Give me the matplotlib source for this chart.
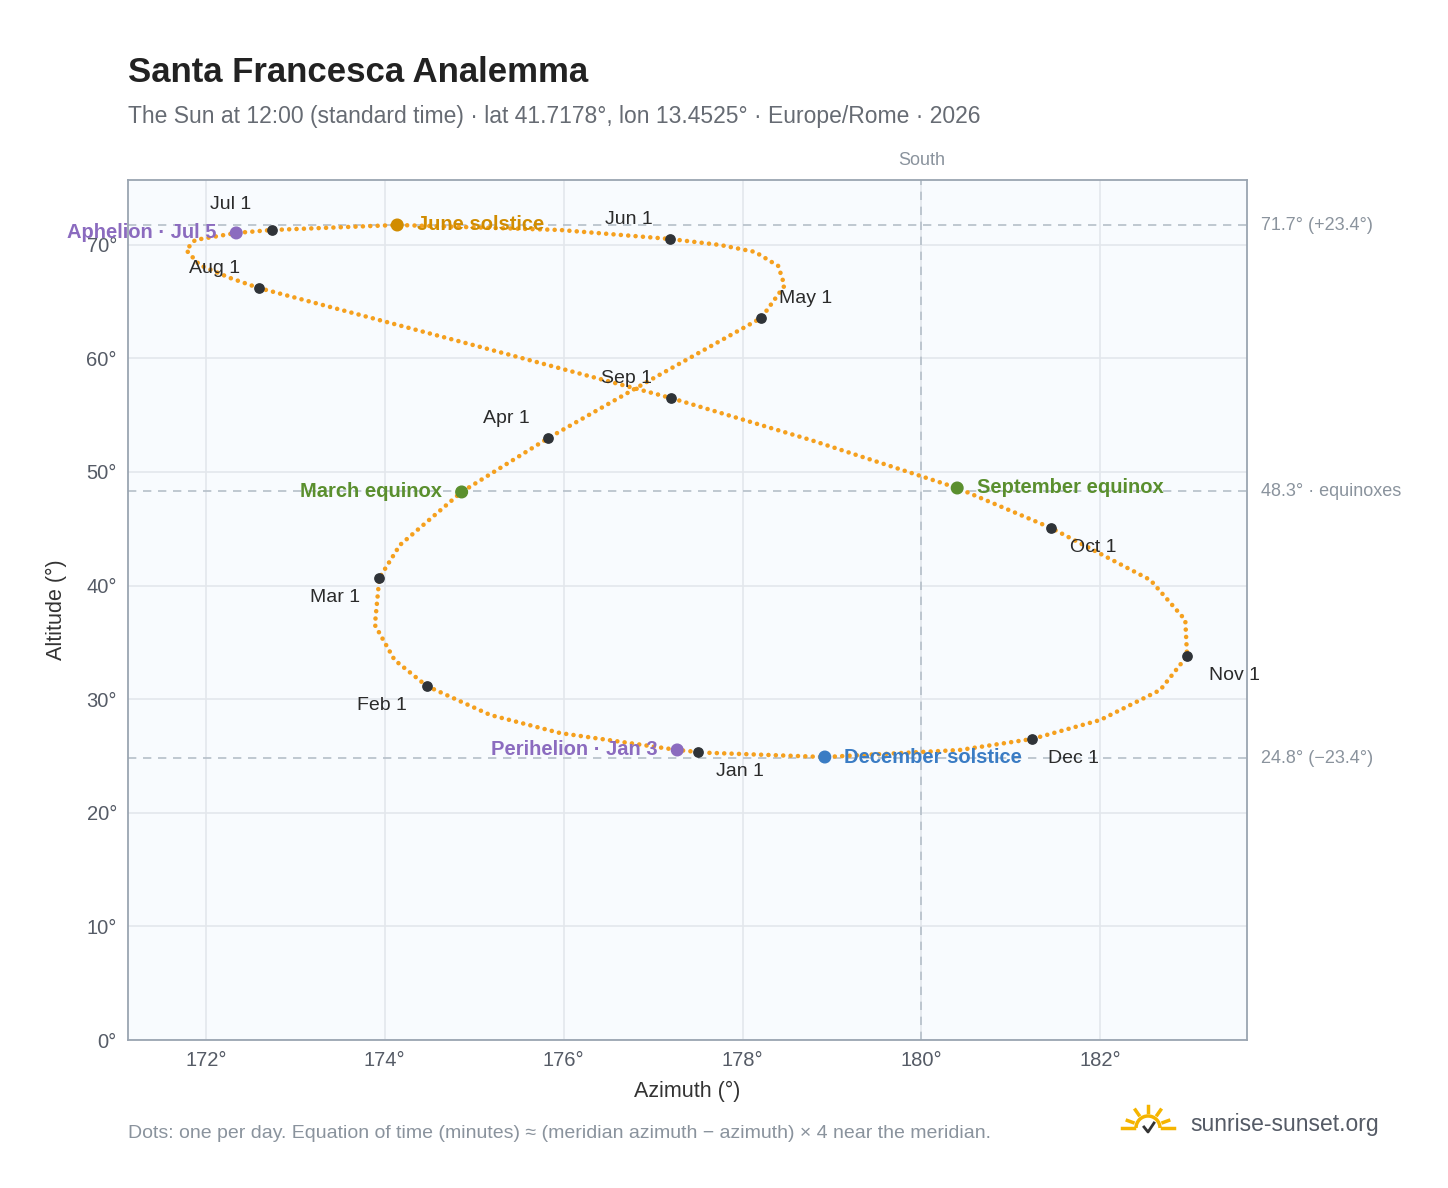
import matplotlib
matplotlib.use("Agg")
import matplotlib.pyplot as plt
from matplotlib.patches import Arc
import numpy as np

plt.rcParams['font.family'] = ['Liberation Sans', 'DejaVu Sans']

# path (approx. ordered through the year)
path_az = [177.50, 177.27, 175.96, 175.18, 174.47, 174.11, 173.89, 173.94, 174.17, 174.86,
           175.83, 176.97, 178.21, 178.47, 178.40, 178.14, 177.75, 177.19, 175.96, 174.14,
           172.74, 172.34, 171.88, 171.78, 171.93, 172.27, 172.59, 174.90, 177.20, 178.76,
           180.40, 181.45, 182.56, 182.95, 182.97, 182.67, 182.00, 181.24, 180.43, 178.92, 177.55]
path_alt = [25.35, 25.53, 27.02, 28.61, 31.16, 33.45, 36.53, 40.67, 43.57, 48.24,
            52.99, 58.10, 63.56, 66.40, 68.13, 69.37, 69.98, 70.51, 71.30, 71.74,
            71.30, 71.04, 70.42, 69.54, 68.22, 67.08, 66.20, 61.36, 56.51, 52.82,
            48.59, 45.07, 40.49, 36.97, 33.80, 30.81, 28.17, 26.50, 25.53, 24.91, 25.30]

months = ["Jan 1", "Feb 1", "Mar 1", "Apr 1", "May 1", "Jun 1", "Jul 1", "Aug 1", "Sep 1", "Oct 1", "Nov 1", "Dec 1"]
month_az = [177.50, 174.47, 173.94, 175.83, 178.21, 177.19, 172.74, 172.59, 177.20, 181.45, 182.97, 181.24]
month_alt = [25.35, 31.16, 40.67, 52.99, 63.56, 70.51, 71.30, 66.20, 56.51, 45.07, 33.80, 26.50]
month_off = [(30, -14), (-32, -14), (-32, -14), (-30, 14), (32, 14), (-30, 14), (-30, 18), (-32, 14), (-32, 14), (30, -14), (34, -14), (30, -14)]

events = ["Perihelion · Jan 3", "March equinox", "June solstice", "Aphelion · Jul 5", "September equinox", "December solstice"]
ev_az = [177.27, 174.86, 174.14, 172.34, 180.40, 178.92]
ev_alt = [25.53, 48.24, 71.74, 71.04, 48.59, 24.91]
ev_col = ["#8b6bbf", "#5a8f2e", "#d18c00", "#8b6bbf", "#5a8f2e", "#3a7cc4"]
ev_side = ["l", "l", "r", "l", "r", "r"]

ref_lines = [71.7, 48.3, 24.8]
ref_labels = ["71.7° (+23.4°)", "48.3° · equinoxes", "24.8° (−23.4°)"]

fig = plt.figure(figsize=(14.48, 11.88), dpi=100)
ax = fig.add_axes([128/1448, 1-1040/1188, 1119/1448, 860/1188])
ax.set_facecolor("#f8fbfe")
ax.set_xlim(171.13, 183.64)
ax.set_ylim(0, 75.7)
ax.set_xticks([172, 174, 176, 178, 180, 182])
ax.set_xticklabels([f"{t}°" for t in [172, 174, 176, 178, 180, 182]])
ax.set_yticks(range(0, 71, 10))
ax.set_yticklabels([f"{t}°" for t in range(0, 71, 10)])
ax.grid(color="#e3e7ec", lw=1.2)
ax.set_axisbelow(True)
for s in ax.spines.values():
    s.set_color("#9aa5b1"); s.set_linewidth(1.3)
ax.tick_params(colors="#555b66", labelsize=14.5, length=0, pad=8)
ax.set_xlabel("Azimuth (°)", fontsize=15.5, color="#333", labelpad=8)
ax.set_ylabel("Altitude (°)", fontsize=15.5, color="#333", labelpad=14)

for v, lab in zip(ref_lines, ref_labels):
    ax.axhline(v, color="#b5bfc9", ls=(0, (5, 4)), lw=1.2)
    ax.annotate(lab, (1, v), xycoords=("axes fraction", "data"), xytext=(10, 0),
                textcoords="offset points", va="center", fontsize=13, color="#8a939d")
ax.axvline(180, color="#b5bfc9", ls=(0, (5, 4)), lw=1.2)
ax.annotate("South", (180, 1), xycoords=("data", "axes fraction"), xytext=(0, 8),
            textcoords="offset points", ha="center", va="bottom", fontsize=13, color="#8a939d")

ax.plot(path_az, path_alt, color="#f5a01e", lw=3.3, ls=(0, (0.01, 1.6)),
        dash_capstyle="round", zorder=3)

ax.scatter(month_az, month_alt, s=45, color="#2f3338", zorder=5)
for m, x, y, o in zip(months, month_az, month_alt, month_off):
    ax.annotate(m, (x, y), xytext=o, textcoords="offset points", ha="center", va="center",
                fontsize=14, color="#2b2b2b", zorder=6)

ax.scatter(ev_az, ev_alt, s=70, color=ev_col, zorder=6)
for e, x, y, c, sd in zip(events, ev_az, ev_alt, ev_col, ev_side):
    ax.annotate(e, (x, y), xytext=(-14 if sd == "l" else 14, 0), textcoords="offset points",
                ha="right" if sd == "l" else "left", va="center", fontsize=14.5,
                fontweight="bold", color=c, zorder=7)

fig.text(128/1448, 1-72/1188, "Santa Francesca Analemma", fontsize=25, fontweight="bold",
         color="#222", va="center")
fig.text(128/1448, 1-116/1188,
         "The Sun at 12:00 (standard time) · lat 41.7178°, lon 13.4525° · Europe/Rome · 2026",
         fontsize=16.5, color="#666b73", va="center")
fig.text(128/1448, 1-1134/1188,
         "Dots: one per day. Equation of time (minutes) ≈ (meridian azimuth − azimuth) × 4 near the meridian.",
         fontsize=14, color="#8a939d", va="center")
fig.text(1190/1448, 1-1125/1188, "sunrise-sunset.org", fontsize=16.5, color="#555b66", va="center")

lax = fig.add_axes([1118/1448, 1-1140/1188, 60/1448, 40/1188])
lax.set_xlim(-1.5, 1.5); lax.set_ylim(-0.6, 1.4); lax.axis("off"); lax.set_aspect("equal")
lax.add_patch(Arc((0, 0), 1.2, 1.2, theta1=0, theta2=180, color="#f5b400", lw=2.5))
for a in np.deg2rad([20, 55, 90, 125, 160]):
    lax.plot([0.8*np.cos(a), 1.1*np.cos(a)], [0.8*np.sin(a), 1.1*np.sin(a)], color="#f5b400", lw=2.5)
lax.plot([-1.3, -0.7], [0, 0], color="#f5b400", lw=2.5)
lax.plot([0.7, 1.3], [0, 0], color="#f5b400", lw=2.5)
lax.plot([-0.2, 0, 0.3], [0.05, -0.2, 0.25], color="#333", lw=2)

fig.savefig("out.png", dpi=100)
